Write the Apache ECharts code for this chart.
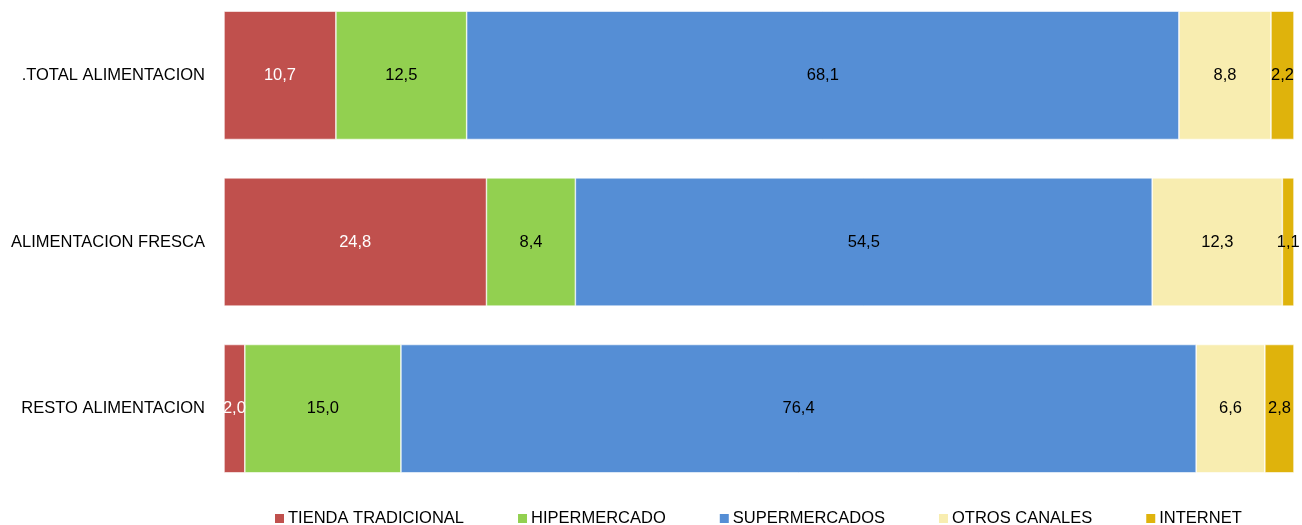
<!DOCTYPE html>
<html>
<head>
<meta charset="utf-8">
<script src="https://cdn.jsdelivr.net/npm/echarts@6/dist/echarts.min.js"></script>
<style>
  html, body { margin: 0; padding: 0; background: #fff; }
  #chart { width: 1302px; height: 525px; }
</style>
</head>
<body>
<div id="chart"></div>
<script>
// categorias (de abajo hacia arriba en el eje)
const categorias = ['RESTO ALIMENTACION', 'ALIMENTACION FRESCA', '.TOTAL ALIMENTACION'];

// valores por canal, mismo orden que categorias
const tiendaTradicional = [2.0, 24.8, 10.7];
const hipermercado = [15.0, 8.4, 12.5];
const supermercados = [76.4, 54.5, 68.1];
const otrosCanales = [6.6, 12.3, 8.8];
const internet = [2.8, 1.1, 2.2];

const canales = [
    { name: 'TIENDA TRADICIONAL', data: tiendaTradicional, color: '#C0504D', label: '#ffffff' },
    { name: 'HIPERMERCADO', data: hipermercado, color: '#92D050', label: '#000000' },
    { name: 'SUPERMERCADOS', data: supermercados, color: '#558ED5', label: '#000000' },
    { name: 'OTROS CANALES', data: otrosCanales, color: '#F8EDB0', label: '#000000' },
    { name: 'INTERNET', data: internet, color: '#DFB30C', label: '#000000' }
];

// totales por fila para apilar al 100%
const totales = categorias.map((c, i) => canales.reduce((s, k) => s + k.data[i], 0));

const chart = echarts.init(document.getElementById('chart'));

const option = {
    animation: false,
    textStyle: { fontFamily: 'Liberation Sans' },
    grid: {
        left: 224,
        right: 8,
        top: -8,
        height: 500,
        outerBoundsMode: 'none'
    },
    legend: {
        top: 505,
        left: 268,
        itemWidth: 11,
        itemHeight: 11,
        itemGap: 52,
        icon: 'rect',
        textStyle: { fontSize: 16.5, color: '#000', padding: [0, 0, 0, -2] },
        data: canales.map(k => k.name)
    },
    xAxis: {
        type: 'value',
        min: 0,
        max: 100,
        show: false
    },
    yAxis: {
        type: 'category',
        data: categorias,
        axisLine: { show: false },
        axisTick: { show: false },
        axisLabel: { fontSize: 16.5, color: '#000', margin: 19 }
    },
    series: canales.map(k => ({
        name: k.name,
        type: 'bar',
        stack: 'total',
        barCategoryGap: '23%',
        itemStyle: { color: k.color, borderColor: '#ffffff', borderWidth: 0.6 },
        label: {
            show: true,
            position: 'inside',
            fontSize: 16.5,
            color: k.label,
            formatter: p => k.data[p.dataIndex].toFixed(1).replace('.', ',')
        },
        data: k.data.map((v, i) => v / totales[i] * 100)
    }))
};

chart.setOption(option);
</script>
</body>
</html>
